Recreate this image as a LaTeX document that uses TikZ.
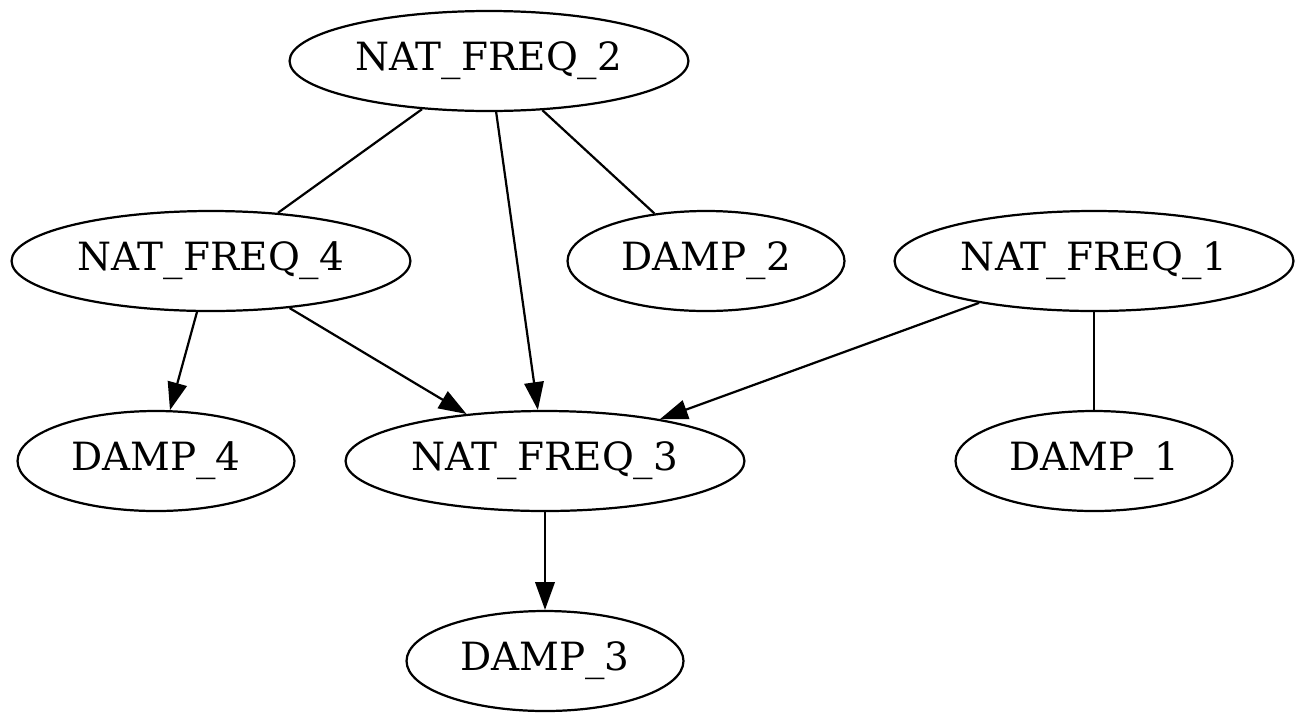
\documentclass[tikz,border=0pt]{standalone}
\usepackage{fontspec}
\setmainfont{DejaVu Serif}
\usetikzlibrary{arrows.meta,shapes.geometric}
\tikzset{
  gnode/.style={draw=black, line width=0.8pt, ellipse, inner sep=0pt, minimum height=36pt,
    font=\fontsize{14}{16.8}\selectfont},
  natnode/.style={gnode, minimum width=143.6pt},
  dampnode/.style={gnode, minimum width=99.7pt},
  plain/.style={draw=black, line width=0.8pt},
  arr/.style={plain, -{Triangle[length=10pt,width=7pt]}}
}
\begin{document}
\begin{tikzpicture}[x=0.36pt,y=-0.36pt]
\useasboundingbox (0,0) rectangle (1306,722);
\node[natnode] (N2) at (489,61) {NAT\_FREQ\_2};
\node[natnode] (N4) at (211,261) {NAT\_FREQ\_4};
\node[dampnode] (D2) at (706,261) {DAMP\_2};
\node[natnode] (N1) at (1094,261) {NAT\_FREQ\_1};
\node[dampnode] (D4) at (156,461) {DAMP\_4};
\node[natnode] (N3) at (545,461) {NAT\_FREQ\_3};
\node[dampnode] (D1) at (1094,461) {DAMP\_1};
\node[dampnode] (D3) at (545,661) {DAMP\_3};
\draw[plain] (N2) -- (N4);
\draw[arr] (N2) -- (N3);
\draw[plain] (N2) -- (D2);
\draw[arr] (N4) -- (D4);
\draw[arr] (N4) -- (N3);
\draw[arr] (N1) -- (N3);
\draw[plain] (N1) -- (D1);
\draw[arr] (N3) -- (D3);
\end{tikzpicture}
\end{document}
